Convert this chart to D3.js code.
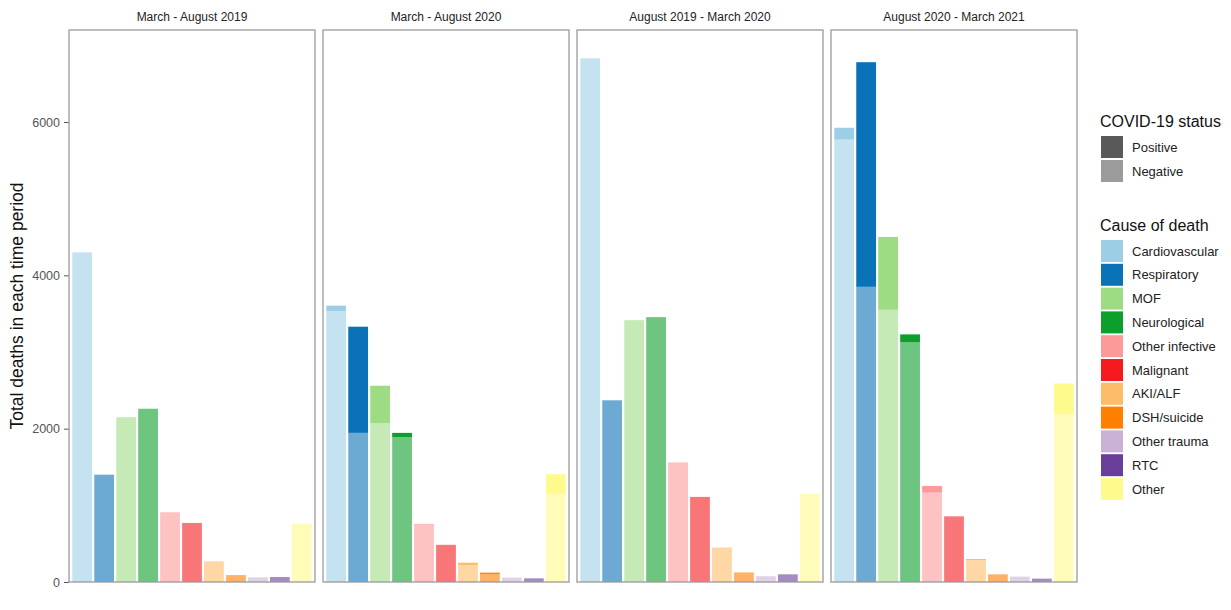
<!DOCTYPE html>
<html>
<head>
<meta charset="utf-8">
<script src="https://cdn.jsdelivr.net/npm/d3@7"></script>
<style>
  body { margin: 0; background: #fff; }
  text { font-family: "Liberation Sans", Arial, sans-serif; }
</style>
</head>
<body>
<script>
// periods (facets) and causes of death
const periods = ['March - August 2019', 'March - August 2020', 'August 2019 - March 2020', 'August 2020 - March 2021'];
const causes = ['Cardiovascular', 'Respiratory', 'MOF', 'Neurological', 'Other infective', 'Malignant',
  'AKI/ALF', 'DSH/suicide', 'Other trauma', 'RTC', 'Other'];
const causeColors = ['#9ccfe6', '#0a72b6', '#9edc84', '#0c9f2c', '#fc9a9a', '#f51a1e',
  '#fdbd68', '#ff7f00', '#cab2d6', '#6a3d9a', '#fffa8c'];

// deaths per cause, COVID-19 negative
const negative = [
  [4300, 1400, 2150, 2260, 910, 770, 270, 90, 60, 65, 760],
  [3535, 1945, 2070, 1890, 750, 480, 218, 105, 57, 48, 1150],
  [6830, 2370, 3415, 3455, 1560, 1110, 450, 125, 75, 100, 1150],
  [5770, 3850, 3550, 3125, 1165, 845, 285, 100, 70, 44, 2190]
];
// deaths per cause, COVID-19 positive
const positive = [
  [0, 0, 0, 0, 0, 0, 0, 0, 0, 0, 0],
  [70, 1385, 490, 55, 8, 4, 34, 17, 0, 0, 255],
  [0, 0, 0, 0, 0, 0, 0, 0, 0, 0, 0],
  [155, 2930, 950, 105, 88, 8, 15, 0, 0, 0, 400]
];
const yTicks = [0, 2000, 4000, 6000];
const statusLabels = ['Positive', 'Negative'];

const width = 1231, height = 610;
const negAlpha = 0.6;

const svg = d3.select('body').append('svg')
    .attr('width', width)
    .attr('height', height);

const y = d3.scaleLinear().domain([0, 7200]).range([582, 30]);

const panelX = [69, 323, 577, 831];
const panelW = 246;

// y axis
const yAxis = svg.append('g')
    .attr('transform', 'translate(69,0)')
    .call(d3.axisLeft(y).tickValues(yTicks).tickFormat(d3.format('d')).tickSize(5).tickPadding(4));
yAxis.select('.domain').remove();
yAxis.selectAll('line').attr('stroke', '#555');
yAxis.selectAll('text')
    .attr('fill', '#555')
    .style('font-size', '12.5px');

svg.append('text')
    .attr('transform', 'translate(23,306) rotate(-90)')
    .attr('text-anchor', 'middle')
    .style('font-size', '17.5px')
    .attr('fill', '#111')
    .text('Total deaths in each time period');

periods.forEach((period, pi) => {
  const g = svg.append('g').attr('transform', `translate(${panelX[pi]},0)`);

  const x = d3.scaleBand()
      .domain(causes)
      .range([0, panelW])
      .paddingInner(0.1)
      .paddingOuter(0.15);

  const rows = causes.map((c, i) => ({
    cause: c,
    color: causeColors[i],
    neg: negative[pi][i],
    pos: positive[pi][i]
  }));

  // negative part (bottom)
  g.selectAll('rect.neg')
    .data(rows)
    .enter()
  .append('rect')
    .attr('class', 'neg')
    .attr('x', d => x(d.cause))
    .attr('width', x.bandwidth())
    .attr('y', d => y(d.neg))
    .attr('height', d => y(0) - y(d.neg))
    .attr('fill', d => d.color)
    .attr('fill-opacity', negAlpha);

  // positive part stacked on top
  g.selectAll('rect.pos')
    .data(rows.filter(d => d.pos > 0))
    .enter()
  .append('rect')
    .attr('class', 'pos')
    .attr('x', d => x(d.cause))
    .attr('width', x.bandwidth())
    .attr('y', d => y(d.neg + d.pos))
    .attr('height', d => y(d.neg) - y(d.neg + d.pos))
    .attr('fill', d => d.color);

  // panel border
  g.append('rect')
    .attr('x', 0)
    .attr('y', 30)
    .attr('width', panelW)
    .attr('height', 552)
    .attr('fill', 'none')
    .attr('stroke', '#9a9a9a')
    .attr('stroke-width', 1.3);

  // strip label
  g.append('text')
    .attr('x', panelW / 2)
    .attr('y', 21)
    .attr('text-anchor', 'middle')
    .style('font-size', '12px')
    .attr('fill', '#222')
    .text(period);
});

// legends
const leg = svg.append('g').attr('transform', 'translate(1100,0)');

leg.append('text')
    .attr('x', 0)
    .attr('y', 127)
    .style('font-size', '16px')
    .attr('fill', '#111')
    .text('COVID-19 status');

leg.selectAll('rect.status')
    .data(statusLabels)
    .enter()
  .append('rect')
    .attr('x', 1)
    .attr('y', (d, i) => 136 + i * 24)
    .attr('width', 22)
    .attr('height', 22)
    .attr('fill', '#595959')
    .attr('fill-opacity', (d, i) => i === 0 ? 1 : negAlpha);

leg.selectAll('text.status')
    .data(statusLabels)
    .enter()
  .append('text')
    .attr('x', 32)
    .attr('y', (d, i) => 147 + i * 24)
    .attr('dy', '0.35em')
    .style('font-size', '13px')
    .attr('fill', '#222')
    .text(d => d);

leg.append('text')
    .attr('x', 0)
    .attr('y', 231)
    .style('font-size', '16px')
    .attr('fill', '#111')
    .text('Cause of death');

leg.selectAll('rect.cause')
    .data(causes)
    .enter()
  .append('rect')
    .attr('x', 1)
    .attr('y', (d, i) => 240 + i * 23.8)
    .attr('width', 22)
    .attr('height', 22)
    .attr('fill', (d, i) => causeColors[i]);

leg.selectAll('text.cause')
    .data(causes)
    .enter()
  .append('text')
    .attr('x', 32)
    .attr('y', (d, i) => 251 + i * 23.8)
    .attr('dy', '0.35em')
    .style('font-size', '13px')
    .attr('fill', '#222')
    .text(d => d);
</script>
</body>
</html>
